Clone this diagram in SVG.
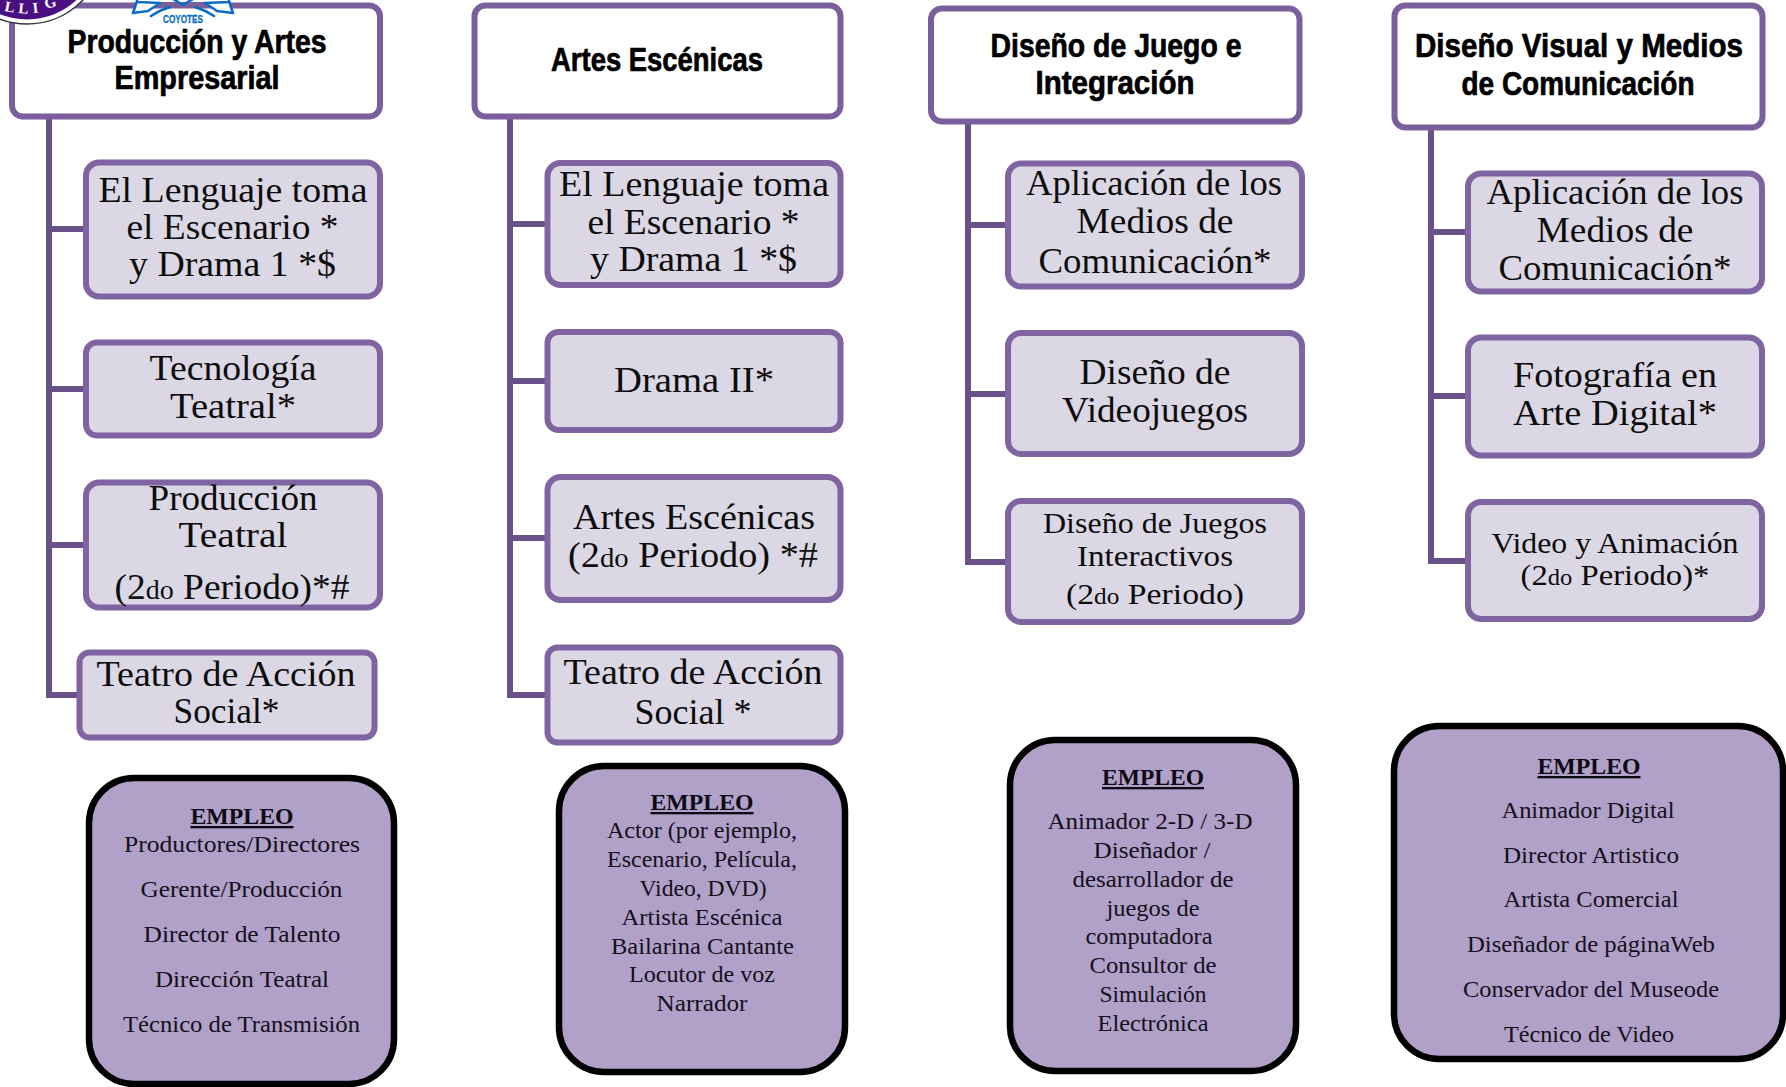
<svg xmlns="http://www.w3.org/2000/svg" width="1786" height="1087" viewBox="0 0 1786 1087">
<style>
.h{fill:#fff;stroke:#7b5f9c;stroke-width:6}
.c{fill:#dcd7e4;stroke:#8064a2;stroke-width:6}
.j{fill:#b1a0c7;stroke:#000;stroke-width:6.5}
.k{fill:none;stroke:#6a5088;stroke-width:6;stroke-linejoin:miter}
text{text-anchor:middle;fill:#0d0d0d;font-family:"Liberation Serif","Times New Roman",serif}
.t{font-family:"Liberation Sans",Arial,sans-serif;font-weight:700;font-size:33px;fill:#000;stroke:#000;stroke-width:.7}
.s{font-size:35px}
.m{font-size:30px}
.b{font-size:24px;fill:#14101c}
.e{font-size:23px;font-weight:700;text-decoration:underline;fill:#0d0a14}
.d{font-size:.75em}
.w{fill:none;stroke:#0a6cc4;stroke-width:2.6;stroke-linecap:round;stroke-linejoin:round}
</style>
<g id="connectors">
<path class="k" d="M49,116V695H80M49,229H86M49,389H86M49,545H86"/>
<path class="k" d="M510,116V695H548M510,224H548M510,381H548M510,538H548"/>
<path class="k" d="M968,121V562H1007M968,225H1007M968,394H1007"/>
<path class="k" d="M1431,127V561H1468M1431,232H1468M1431,396H1468"/>
</g>
<g id="col1-header"><rect class="h" x="12" y="5.5" width="368" height="111" rx="11"/>
<text class="t" x="197" y="52.5" textLength="259" lengthAdjust="spacingAndGlyphs">Producción y Artes</text>
<text class="t" x="197" y="88.5" textLength="165" lengthAdjust="spacingAndGlyphs">Empresarial</text></g>
<g id="col1-n1"><rect class="c" x="86" y="162.5" width="294" height="134" rx="13"/>
<text class="s" x="233" y="202" textLength="269" lengthAdjust="spacingAndGlyphs">El Lenguaje toma</text>
<text class="s" x="232.5" y="239" textLength="212" lengthAdjust="spacingAndGlyphs">el Escenario *</text>
<text class="s" x="232.5" y="276" textLength="207" lengthAdjust="spacingAndGlyphs">y Drama 1 *$</text></g>
<g id="col1-n2"><rect class="c" x="86" y="342.5" width="294" height="93" rx="11"/>
<text class="s" x="233" y="380" textLength="167" lengthAdjust="spacingAndGlyphs">Tecnología</text>
<text class="s" x="233" y="417.5" textLength="126" lengthAdjust="spacingAndGlyphs">Teatral*</text></g>
<g id="col1-n3"><rect class="c" x="86" y="482.5" width="294" height="125" rx="13"/>
<text class="s" x="233" y="510" textLength="169" lengthAdjust="spacingAndGlyphs">Producción</text>
<text class="s" x="233" y="547" textLength="109" lengthAdjust="spacingAndGlyphs">Teatral</text>
<text class="s" x="232" y="599" textLength="235" lengthAdjust="spacingAndGlyphs">(2<tspan class="d">do</tspan> Periodo)*#</text></g>
<g id="col1-n4"><rect class="c" x="79.5" y="652.5" width="295" height="85" rx="10"/>
<text class="s" x="226" y="686" textLength="259" lengthAdjust="spacingAndGlyphs">Teatro de Acción</text>
<text class="s" x="226.5" y="723" textLength="106" lengthAdjust="spacingAndGlyphs">Social*</text></g>
<g id="col1-empleo"><rect class="j" x="89" y="778" width="305" height="306" rx="45"/>
<text class="e" x="242" y="824" textLength="103" lengthAdjust="spacingAndGlyphs">EMPLEO</text>
<text class="b" x="242" y="852" textLength="236" lengthAdjust="spacingAndGlyphs">Productores/Directores</text>
<text class="b" x="241.5" y="897" textLength="202" lengthAdjust="spacingAndGlyphs">Gerente/Producción</text>
<text class="b" x="242" y="942" textLength="197" lengthAdjust="spacingAndGlyphs">Director de Talento</text>
<text class="b" x="242" y="987" textLength="174" lengthAdjust="spacingAndGlyphs">Dirección Teatral</text>
<text class="b" x="241.5" y="1032" textLength="237" lengthAdjust="spacingAndGlyphs">Técnico de Transmisión</text></g>

<g id="col2-header"><rect class="h" x="474.5" y="5.5" width="366" height="111" rx="11"/>
<text class="t" x="657" y="71" textLength="212" lengthAdjust="spacingAndGlyphs">Artes Escénicas</text></g>
<g id="col2-n1"><rect class="c" x="547.5" y="163" width="293" height="122" rx="13"/>
<text class="s" x="694" y="196" textLength="270" lengthAdjust="spacingAndGlyphs">El Lenguaje toma</text>
<text class="s" x="693.5" y="234" textLength="212" lengthAdjust="spacingAndGlyphs">el Escenario *</text>
<text class="s" x="693.5" y="271" textLength="207" lengthAdjust="spacingAndGlyphs">y Drama 1 *$</text></g>
<g id="col2-n2"><rect class="c" x="547.5" y="332" width="293" height="98" rx="11"/>
<text class="s" x="694" y="392" textLength="160" lengthAdjust="spacingAndGlyphs">Drama II*</text></g>
<g id="col2-n3"><rect class="c" x="547.5" y="477" width="293" height="123" rx="13"/>
<text class="s" x="694" y="529" textLength="242" lengthAdjust="spacingAndGlyphs">Artes Escénicas</text>
<text class="s" x="693" y="567" textLength="250" lengthAdjust="spacingAndGlyphs">(2<tspan class="d">do</tspan> Periodo) *#</text></g>
<g id="col2-n4"><rect class="c" x="547.5" y="647.5" width="293" height="95" rx="10"/>
<text class="s" x="693" y="684" textLength="259" lengthAdjust="spacingAndGlyphs">Teatro de Acción</text>
<text class="s" x="693" y="723.5" textLength="117" lengthAdjust="spacingAndGlyphs">Social *</text></g>
<g id="col2-empleo"><rect class="j" x="559" y="766" width="286" height="306" rx="45"/>
<text class="e" x="702" y="810" textLength="103" lengthAdjust="spacingAndGlyphs">EMPLEO</text>
<text class="b" x="702" y="838" textLength="190" lengthAdjust="spacingAndGlyphs">Actor (por ejemplo,</text>
<text class="b" x="702" y="867" textLength="190" lengthAdjust="spacingAndGlyphs">Escenario, Película,</text>
<text class="b" x="703" y="896" textLength="127" lengthAdjust="spacingAndGlyphs">Video, DVD)</text>
<text class="b" x="702" y="925" textLength="161" lengthAdjust="spacingAndGlyphs">Artista Escénica</text>
<text class="b" x="702.5" y="954" textLength="183" lengthAdjust="spacingAndGlyphs">Bailarina Cantante</text>
<text class="b" x="702" y="982" textLength="146" lengthAdjust="spacingAndGlyphs">Locutor de voz</text>
<text class="b" x="702" y="1011" textLength="91" lengthAdjust="spacingAndGlyphs">Narrador</text></g>

<g id="col3-header"><rect class="h" x="931" y="8.5" width="368.5" height="113" rx="11"/>
<text class="t" x="1116" y="57" textLength="251" lengthAdjust="spacingAndGlyphs">Diseño de Juego e</text>
<text class="t" x="1115" y="93.5" textLength="159" lengthAdjust="spacingAndGlyphs">Integración</text></g>
<g id="col3-n1"><rect class="c" x="1008" y="163.5" width="294" height="123" rx="13"/>
<text class="s" x="1154" y="195" textLength="256" lengthAdjust="spacingAndGlyphs">Aplicación de los</text>
<text class="s" x="1155" y="233" textLength="157" lengthAdjust="spacingAndGlyphs">Medios de</text>
<text class="s" x="1155" y="273" textLength="233" lengthAdjust="spacingAndGlyphs">Comunicación*</text></g>
<g id="col3-n2"><rect class="c" x="1008" y="333" width="294" height="121" rx="13"/>
<text class="s" x="1155" y="384" textLength="151" lengthAdjust="spacingAndGlyphs">Diseño de</text>
<text class="s" x="1155" y="421.5" textLength="186" lengthAdjust="spacingAndGlyphs">Videojuegos</text></g>
<g id="col3-n3"><rect class="c" x="1008" y="501" width="294" height="121" rx="13"/>
<text class="m" x="1155" y="533" textLength="224" lengthAdjust="spacingAndGlyphs">Diseño de Juegos</text>
<text class="m" x="1155" y="565.5" textLength="156" lengthAdjust="spacingAndGlyphs">Interactivos</text>
<text class="m" x="1155" y="604" textLength="178" lengthAdjust="spacingAndGlyphs">(2<tspan class="d">do</tspan> Periodo)</text></g>
<g id="col3-empleo"><rect class="j" x="1010" y="740" width="286" height="331" rx="45"/>
<text class="e" x="1153" y="785" textLength="102" lengthAdjust="spacingAndGlyphs">EMPLEO</text>
<text class="b" x="1150" y="829" textLength="205" lengthAdjust="spacingAndGlyphs">Animador 2-D / 3-D</text>
<text class="b" x="1152" y="858" textLength="117" lengthAdjust="spacingAndGlyphs">Diseñador /</text>
<text class="b" x="1153" y="887" textLength="161" lengthAdjust="spacingAndGlyphs">desarrollador de</text>
<text class="b" x="1153" y="916" textLength="93" lengthAdjust="spacingAndGlyphs">juegos de</text>
<text class="b" x="1149" y="944" textLength="127" lengthAdjust="spacingAndGlyphs">computadora</text>
<text class="b" x="1153" y="973" textLength="127" lengthAdjust="spacingAndGlyphs">Consultor de</text>
<text class="b" x="1153" y="1002" textLength="107" lengthAdjust="spacingAndGlyphs">Simulación</text>
<text class="b" x="1153" y="1031" textLength="111" lengthAdjust="spacingAndGlyphs">Electrónica</text></g>

<g id="col4-header"><rect class="h" x="1394.5" y="5.5" width="368" height="122" rx="11"/>
<text class="t" x="1579" y="57" textLength="328" lengthAdjust="spacingAndGlyphs">Diseño Visual y Medios</text>
<text class="t" x="1578" y="95" textLength="233" lengthAdjust="spacingAndGlyphs">de Comunicación</text></g>
<g id="col4-n1"><rect class="c" x="1468" y="173.5" width="294" height="118" rx="13"/>
<text class="s" x="1615" y="204" textLength="257" lengthAdjust="spacingAndGlyphs">Aplicación de los</text>
<text class="s" x="1615" y="242" textLength="157" lengthAdjust="spacingAndGlyphs">Medios de</text>
<text class="s" x="1615" y="279.5" textLength="233" lengthAdjust="spacingAndGlyphs">Comunicación*</text></g>
<g id="col4-n2"><rect class="c" x="1468" y="337.5" width="294" height="118" rx="13"/>
<text class="s" x="1615" y="387" textLength="204" lengthAdjust="spacingAndGlyphs">Fotografía en</text>
<text class="s" x="1615" y="425" textLength="204" lengthAdjust="spacingAndGlyphs">Arte Digital*</text></g>
<g id="col4-n3"><rect class="c" x="1468" y="502" width="294" height="117" rx="13"/>
<text class="m" x="1615" y="552.5" textLength="247" lengthAdjust="spacingAndGlyphs">Video y Animación</text>
<text class="m" x="1615" y="585" textLength="189" lengthAdjust="spacingAndGlyphs">(2<tspan class="d">do</tspan> Periodo)*</text></g>
<g id="col4-empleo"><rect class="j" x="1394" y="726" width="389" height="333" rx="45"/>
<text class="e" x="1589" y="774" textLength="103" lengthAdjust="spacingAndGlyphs">EMPLEO</text>
<text class="b" x="1588" y="818" textLength="173" lengthAdjust="spacingAndGlyphs">Animador Digital</text>
<text class="b" x="1591" y="863" textLength="176" lengthAdjust="spacingAndGlyphs">Director Artistico</text>
<text class="b" x="1591" y="907" textLength="175" lengthAdjust="spacingAndGlyphs">Artista Comercial</text>
<text class="b" x="1591" y="952" textLength="248" lengthAdjust="spacingAndGlyphs">Diseñador de páginaWeb</text>
<text class="b" x="1591" y="997" textLength="256" lengthAdjust="spacingAndGlyphs">Conservador del Museode</text>
<text class="b" x="1589" y="1042" textLength="170" lengthAdjust="spacingAndGlyphs">Técnico de Video</text></g>

<g id="logo-seal">
<circle cx="27" cy="-53" r="77" fill="#fff" stroke="#3a3440" stroke-width="1.6"/>
<circle cx="27" cy="-53" r="72.5" fill="#4a0f80"/>
<text x="4 18 33 46" y="11 13 13 9" rotate="10 5 -6 -16" font-size="15" font-weight="700" style="fill:#fff;text-anchor:start">LLIG</text>
</g>
<g id="logo-coyotes">
<path d="M133,13 L137,-1 H229 L233,13 L216,12 L205,3 H160 L149,12 Z" fill="#fff"/>
<path d="M160,4.5 H205" stroke="#7b5f9c" stroke-width="5"/>
<path class="w" d="M133,13 L137,1 M133,13 L148,11 L160,3 M138,2 L160,3"/>
<path class="w" d="M233,13 L229,1 M233,13 L217,11 L205,3 M228,2 L205,3"/>
<path class="w" d="M173,-1 L183,5 L193,-1 M151,16 Q160,10 170,7 M214,16 Q205,10 195,7"/>
<text x="183" y="23" font-size="11" font-weight="700" textLength="40" lengthAdjust="spacingAndGlyphs" stroke="#0a6cc4" stroke-width=".3" style="fill:#0a6cc4;font-family:'Liberation Sans',Arial,sans-serif">COYOTES</text>
</g>
</svg>
